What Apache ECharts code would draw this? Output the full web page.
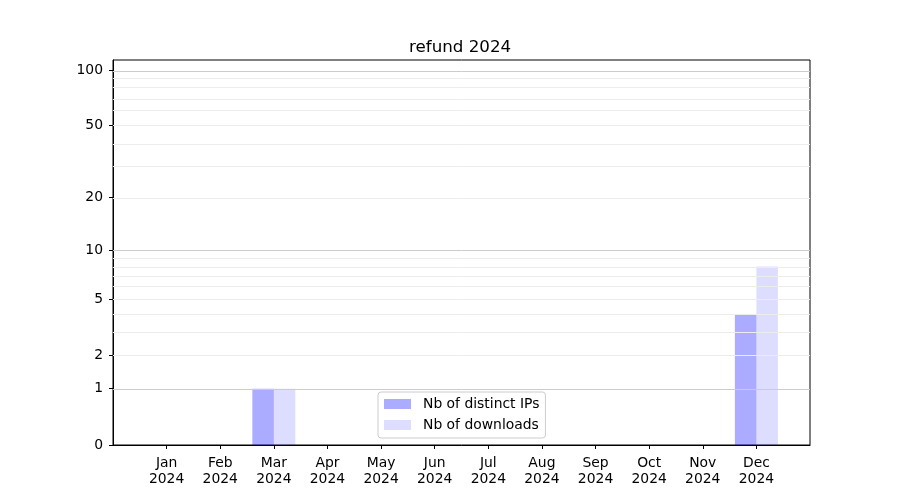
<!DOCTYPE html>
<html><head><meta charset="utf-8">
<script src="https://cdn.jsdelivr.net/npm/echarts@6/dist/echarts.min.js"></script>
<style>html,body{margin:0;padding:0;background:#fff}#c{width:900px;height:500px}</style>
</head><body><div id="c"></div>
<script>
const months = ['Jan','Feb','Mar','Apr','May','Jun','Jul','Aug','Sep','Oct','Nov','Dec'];
const year = '2024';
const distinctIPs = [0,0,1,0,0,0,0,0,0,0,0,4];
const downloads = [0,0,1,0,0,0,0,0,0,0,0,8];
const yTicks = [0,1,2,5,10,20,50,100];
const majorGrid = [1,10,100];
const minorGrid = [2,3,4,5,6,7,8,9,20,30,40,50,60,70,80,90];
const yMaxValue = 113.2;

const tf = v => Math.log10(1 + v);
const FONT = 'DejaVu Sans';
const idx = months.map((m, i) => i);

const gridLines = majorGrid.map(v => ({yAxis: tf(v), lineStyle: {color: '#cccccc', width: 1, type: 'solid'}}))
  .concat(minorGrid.map(v => ({yAxis: tf(v), lineStyle: {color: '#ececec', width: 1, type: 'solid'}})));

const chart = echarts.init(document.getElementById('c'), null, {renderer: 'canvas'});
chart.setOption({
  animation: false,
  backgroundColor: '#ffffff',
  textStyle: {fontFamily: FONT},
  title: {
    text: 'refund 2024', left: 404, top: 34,
    textStyle: {fontFamily: FONT, fontSize: 16.7, fontWeight: 'normal', color: '#000'}
  },
  grid: {left: 113, right: 90, top: 60, bottom: 55, show: true, borderColor: '#000', borderWidth: 1, backgroundColor: 'transparent'},
  legend: {
    data: ['Nb of distinct IPs', 'Nb of downloads'],
    orient: 'vertical', left: 378, top: 392,
    icon: 'rect', itemWidth: 27, itemHeight: 10, itemGap: 7,
    padding: [5, 6, 6, 6],
    backgroundColor: '#fff', borderColor: '#cccccc', borderWidth: 1, borderRadius: 3,
    textStyle: {fontFamily: FONT, fontSize: 13.9, color: '#000', padding: [0, 0, 0, 7]}
  },
  xAxis: {
    type: 'value', min: -1, max: 12, interval: 1,
    axisLine: {show: true, onZero: false, lineStyle: {color: '#000', width: 1}},
    axisTick: {show: true, length: 4, customValues: idx, lineStyle: {color: '#000'}},
    axisLabel: {customValues: idx, margin: 10, color: '#000', fontFamily: FONT, fontSize: 13.9, lineHeight: 16,
      formatter: v => months[Math.round(v)] + '\n' + year},
    splitLine: {show: false}
  },
  yAxis: {
    type: 'value', min: 0, max: tf(yMaxValue),
    axisLine: {show: true, onZero: false, lineStyle: {color: '#000', width: 1}},
    axisTick: {show: true, length: 4, customValues: yTicks.map(tf), lineStyle: {color: '#000'}},
    axisLabel: {customValues: yTicks.map(tf), margin: 10, color: '#000', fontFamily: FONT, fontSize: 13.9,
      formatter: v => String(Math.round(Math.pow(10, v) - 1))},
    splitLine: {show: false}
  },
  series: [
    {
      name: 'grid', type: 'line', data: [], z: 1, silent: true,
      markLine: {silent: true, symbol: 'none', label: {show: false}, animation: false, data: gridLines}
    },
    {
      name: 'Nb of distinct IPs', type: 'bar', z: 2, barWidth: 21.5, barGap: '0%',
      itemStyle: {color: 'rgba(0,0,255,0.33)'},
      data: distinctIPs.map((v, i) => [i, tf(v)])
    },
    {
      name: 'Nb of downloads', type: 'bar', z: 2, barWidth: 21.5, barGap: '0%',
      itemStyle: {color: 'rgba(0,0,255,0.135)'},
      data: downloads.map((v, i) => [i, tf(v)])
    }
  ]
});
</script></body></html>
